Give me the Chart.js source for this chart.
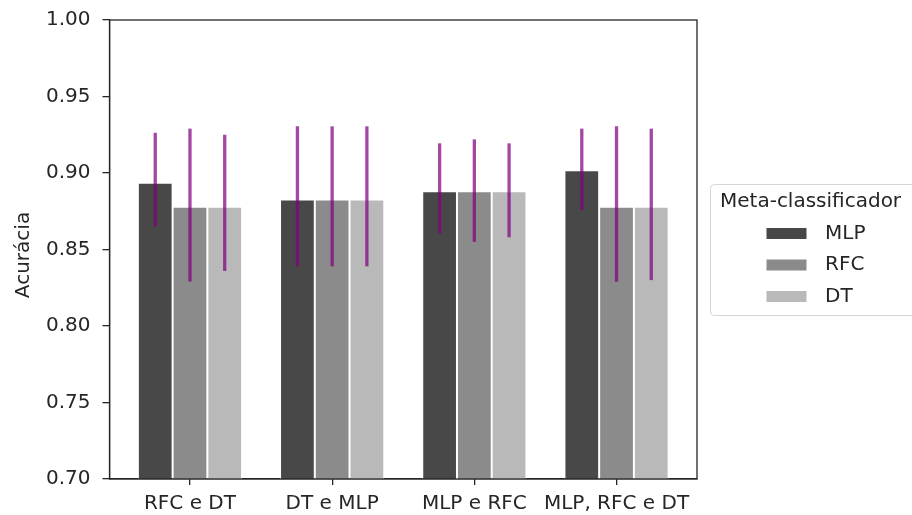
<!DOCTYPE html>
<html>
<head>
<meta charset="utf-8">
<script src="https://cdn.jsdelivr.net/npm/chart.js@4/dist/chart.umd.min.js"></script>
<style>
  html, body { margin: 0; padding: 0; background: #fff; }
  #wrap { width: 912px; height: 515px; position: relative; }
</style>
</head>
<body>
<div id="wrap"><canvas id="myChart" width="912" height="515"></canvas></div>
<script>
// categorias e valores
let categorias = ["RFC e DT", "DT e MLP", "MLP e RFC", "MLP, RFC e DT"];
let series = ["MLP", "RFC", "DT"];

let mlpValores = [0.8937, 0.8826, 0.8880, 0.9018];
let rfcValores = [0.8780, 0.8826, 0.8880, 0.8780];
let dtValores  = [0.8780, 0.8826, 0.8880, 0.8780];

// barras de erro (min / max)
let mlpMin = [0.865, 0.839, 0.8606, 0.8758];
let mlpMax = [0.9263, 0.9305, 0.9194, 0.929];
let rfcMin = [0.829, 0.839, 0.855, 0.829];
let rfcMax = [0.929, 0.9305, 0.922, 0.9305];
let dtMin  = [0.836, 0.839, 0.858, 0.830];
let dtMax  = [0.925, 0.9305, 0.9194, 0.929];

let yTicks = [0.70, 0.75, 0.80, 0.85, 0.90, 0.95, 1.00];

let cores = ['#484848', '#8b8b8b', '#b9b9b9'];
let fonte = "'DejaVu Sans', sans-serif";

function pontos(valores) {
  return valores.map((v, i) => ({ x: i, y: v }));
}

let erros = [[mlpMin, mlpMax], [rfcMin, rfcMax], [dtMin, dtMax]];

// barras de erro + moldura + legenda
const extras = {
  id: 'extras',
  afterDatasetsDraw(chart) {
    const ctx = chart.ctx;
    const y = chart.scales.y;
    ctx.save();
    ctx.strokeStyle = 'rgba(128, 0, 128, 0.72)';
    ctx.lineWidth = 3.3;
    chart.data.datasets.forEach((ds, d) => {
      const meta = chart.getDatasetMeta(d);
      meta.data.forEach((bar, i) => {
        ctx.beginPath();
        ctx.moveTo(bar.x, y.getPixelForValue(erros[d][0][i]));
        ctx.lineTo(bar.x, y.getPixelForValue(erros[d][1][i]));
        ctx.stroke();
      });
    });
    ctx.restore();
  },
  afterDraw(chart) {
    const ctx = chart.ctx;
    const a = chart.chartArea;
    ctx.save();
    ctx.strokeStyle = '#262626';
    ctx.lineWidth = 1.3;
    ctx.strokeRect(a.left, a.top, a.right - a.left, a.bottom - a.top);

    ctx.fillStyle = '#262626';
    ctx.font = '20px ' + fonte;
    ctx.textBaseline = 'middle';

    // titulo do eixo y
    ctx.save();
    ctx.translate(24, 255);
    ctx.rotate(-Math.PI / 2);
    ctx.textAlign = 'center';
    ctx.fillText('Acurácia', 0, 0);
    ctx.restore();

    // legenda
    let lx = 710.5, ly = 184.5, lw = 230, lh = 131;
    ctx.beginPath();
    ctx.roundRect(lx, ly, lw, lh, 4);
    ctx.fillStyle = 'rgba(255,255,255,0.8)';
    ctx.fill();
    ctx.strokeStyle = '#d5d5d5';
    ctx.lineWidth = 1;
    ctx.stroke();

    ctx.fillStyle = '#262626';
    ctx.textAlign = 'left';
    ctx.fillText('Meta-classificador', 720, 201.5);

    chart.data.datasets.forEach((ds, d) => {
      let cy = 233.5 + d * 31.5;
      ctx.fillStyle = ds.backgroundColor;
      ctx.fillRect(766.5, cy - 5.5, 40, 11);
      ctx.fillStyle = '#262626';
      ctx.fillText(ds.label, 825, cy);
    });
    ctx.restore();
  }
};

const ctx = document.getElementById('myChart');

new Chart(ctx, {
  type: 'bar',
  data: {
    datasets: [
      { label: series[0], data: pontos(mlpValores), backgroundColor: cores[0] },
      { label: series[1], data: pontos(rfcValores), backgroundColor: cores[1] },
      { label: series[2], data: pontos(dtValores), backgroundColor: cores[2] }
    ]
  },
  options: {
    responsive: false,
    animation: false,
    devicePixelRatio: 1,
    datasets: {
      bar: {
        categoryPercentage: 0.733,
        barPercentage: 1.0,
        borderColor: '#ffffff',
        borderWidth: 1,
        borderSkipped: false
      }
    },
    layout: { padding: { top: 20, right: 215, bottom: 0, left: 0 } },
    plugins: {
      legend: { display: false },
      tooltip: { enabled: false }
    },
    scales: {
      x: {
        type: 'linear',
        min: -0.566,
        max: 3.566,
        offset: false,
        afterFit: s => { s.height = 36; },
        afterBuildTicks: s => { s.ticks = categorias.map((c, i) => ({ value: i })); },
        grid: { display: true, drawOnChartArea: false, offset: false, tickLength: 6, color: '#262626', lineWidth: 1.3 },
        border: { display: true, color: '#262626', width: 1.3 },
        ticks: {
          color: '#262626',
          font: { family: fonte, size: 20 },
          padding: 7,
          maxRotation: 0,
          autoSkip: false,
          callback: v => categorias[v]
        }
      },
      y: {
        min: 0.70,
        max: 1.00,
        afterFit: s => { s.width = 109.5; s.paddingTop = 0; s.paddingBottom = 0; },
        afterBuildTicks: s => { s.ticks = yTicks.map(v => ({ value: v })); },
        grid: { display: true, drawOnChartArea: false, tickLength: 7, color: '#262626', lineWidth: 1.3 },
        border: { display: true, color: '#262626', width: 1.3 },
        ticks: {
          color: '#262626',
          font: { family: fonte, size: 20 },
          padding: 12,
          callback: v => v.toFixed(2)
        }
      }
    }
  },
  plugins: [extras]
});
</script>
</body>
</html>
